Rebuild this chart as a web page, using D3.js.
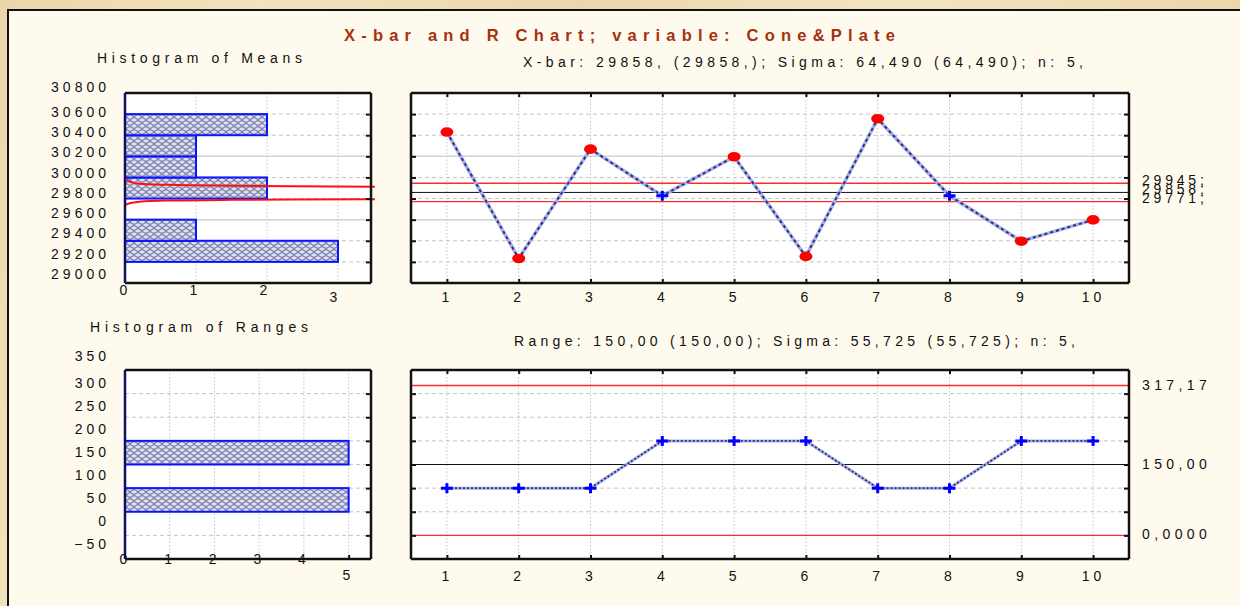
<!DOCTYPE html>
<html><head><meta charset="utf-8">
<script src="https://cdn.jsdelivr.net/npm/d3@7"></script>
<style>
html,body{margin:0;padding:0;background:#eedbb2;}
svg{display:block;font-family:"Liberation Sans",Arial,sans-serif;}
</style>
</head><body>
<svg id="c" width="1240" height="606"></svg>
<script>
// ---------------- data ----------------
const samples = [1,2,3,4,5,6,7,8,9,10];
const xbarValues = [30430, 29232, 30268, 29826, 30196, 29252, 30556, 29826, 29396, 29598];
const rangeValues = [100, 100, 100, 200, 200, 200, 100, 100, 200, 200];
const xbarCenter = 29858, xbarUCL = 29945, xbarLCL = 29771;
const rangeCenter = 150, rangeUCL = 317.17, rangeLCL = 0;
const meanTicks = [29000, 29200, 29400, 29600, 29800, 30000, 30200, 30400, 30600, 30800];
const meanBinEdges = [29000, 29200, 29400, 29600, 29800, 30000, 30200, 30400, 30600, 30800];
const rangeTicks = [-50, 0, 50, 100, 150, 200, 250, 300, 350];
const rangeBinEdges = [-50, 0, 50, 100, 150, 200, 250, 300, 350];
const meanCountTicks = [0, 1, 2, 3];
const rangeCountTicks = [0, 1, 2, 3, 4, 5];
// normal-fit curve traces drawn on the histogram of means: [count, value]
const meanCurveUpper = [[0.02,29980],[0.08,29956],[0.2,29941],[0.6,29930],[1.5,29921],[3.52,29912]];
const meanCurveLower = [[0.0,29740],[0.08,29758],[0.2,29769],[0.6,29781],[1.5,29788],[3.52,29793]];
const xbarRightLabels = ["29945;", "29858;", "29771;"];
const rangeRightLabels = ["317,17", "150,00", "0,0000"];
const titleText = "X-bar and R Chart; variable:  Cone&Plate";
const xbarSubtitle = "X-bar: 29858, (29858,); Sigma: 64,490 (64,490); n: 5,";
const rangeSubtitle = "Range: 150,00 (150,00); Sigma: 55,725 (55,725); n: 5,";

// ---------------- setup ----------------
const svg = d3.select("#c");
const defs = svg.append("defs");
const bgGrad = defs.append("linearGradient").attr("id","parch").attr("x1","0").attr("x2","1").attr("y1","0").attr("y2","0.2");
[["0","#ecd6a9"],["0.2","#f2e2bd"],["0.45","#ebd7ad"],["0.7","#f3e4c1"],["1","#ead5a8"]].forEach(s=>bgGrad.append("stop").attr("offset",s[0]).attr("stop-color",s[1]));
const pat = defs.append("pattern").attr("id","weave").attr("patternUnits","userSpaceOnUse").attr("width",8).attr("height",6);
pat.append("rect").attr("width",8).attr("height",6).attr("fill","#dfe0f2");
pat.append("path").attr("d","M0,1.5 Q2,-0.3 4,1.5 T8,1.5 M0,4.5 Q2,6.3 4,4.5 T8,4.5")
  .attr("fill","none").attr("stroke","#7b7ea8").attr("stroke-width",1.1);

svg.append("rect").attr("width",1240).attr("height",606).attr("fill","url(#parch)");
svg.append("rect").attr("x",8).attr("y",10).attr("width",1245).attr("height",610)
  .attr("fill","#fffaee").attr("stroke","#111").attr("stroke-width",2);

const GRID = "#c4c4c4";
const LS = "4px";
const FS = 14;

// text helpers
function txt(x,y,s,opts={}){
  const t = svg.append("text").attr("x",x).attr("y",y).text(s)
    .attr("font-size",opts.size||FS).attr("fill",opts.fill||"#111");
  if(opts.bold) t.attr("font-weight","bold");
  if(opts.len) t.attr("textLength",opts.len).attr("lengthAdjust","spacing");
  if(opts.ls) t.style("letter-spacing",opts.ls);
  if(opts.anchor) t.attr("text-anchor",opts.anchor);
  return t;
}

txt(344,41,titleText,{size:16.5,bold:true,fill:"#a5320e",len:551});
txt(523,67,xbarSubtitle,{size:14,len:560});
txt(97,63,"Histogram of Means",{size:14,len:205});
txt(90,332,"Histogram of Ranges",{size:14,len:218});
txt(514,346,rangeSubtitle,{size:14,len:561});

// ---------------- geometry ----------------
const P = {
  hm:{x0:125,x1:371,y0:93,y1:283},
  xb:{x0:411,x1:1129,y0:93,y1:283},
  hr:{x0:125,x1:371,y0:370,y1:559},
  rc:{x0:411,x1:1129,y0:370,y1:559}
};
const yMean = d3.scaleLinear().domain([29000,30800]).range([P.xb.y1,P.xb.y0]);
const yRange = d3.scaleLinear().domain([-50,350]).range([P.rc.y1,P.rc.y0]);
const xSample = d3.scaleLinear().domain([0.5,10.5]).range([P.xb.x0,P.xb.x1]);
const xCountM = d3.scaleLinear().domain([0,3.465]).range([P.hm.x0,P.hm.x1]);
const xCountR = d3.scaleLinear().domain([0,5.5]).range([P.hr.x0,P.hr.x1]);
// label placement scales (Statistica's labels are offset from the tick marks)
const yMeanLbl = d3.scaleLinear().domain([29000,30600,30800]).range([274,112,87]);
const yRangeLbl = d3.scaleLinear().domain([-50,300,350]).range([544,383,356]);
const xCountMLbl = d3.scaleLinear().domain([0,3]).range([123,333]);
const xCountRLbl = d3.scaleLinear().domain([0,5]).range([123,346]);

function plotBg(p){
  svg.append("rect").attr("x",p.x0).attr("y",p.y0).attr("width",p.x1-p.x0).attr("height",p.y1-p.y0).attr("fill","#fff");
}
function hGrid(p,ys,dash,color,w){
  svg.append("g").selectAll("line").data(ys).join("line")
    .attr("x1",p.x0).attr("x2",p.x1).attr("y1",d=>d).attr("y2",d=>d)
    .attr("stroke",color||GRID).attr("stroke-width",w||1).attr("stroke-dasharray",dash);
}
function vGrid(p,xs){
  svg.append("g").selectAll("line").data(xs).join("line")
    .attr("y1",p.y0).attr("y2",p.y1).attr("x1",d=>d).attr("x2",d=>d)
    .attr("stroke",GRID).attr("stroke-width",1).attr("stroke-dasharray","1.5,2");
}
function frame(p,leftColor){
  const g = svg.append("g").attr("fill","none").attr("stroke-width",2.5);
  g.append("line").attr("x1",p.x0).attr("x2",p.x1).attr("y1",p.y0).attr("y2",p.y0).attr("stroke","#111");
  g.append("line").attr("x1",p.x0).attr("x2",p.x1).attr("y1",p.y1).attr("y2",p.y1).attr("stroke","#111");
  g.append("line").attr("x1",p.x1).attr("x2",p.x1).attr("y1",p.y0).attr("y2",p.y1).attr("stroke","#111");
  g.append("line").attr("x1",p.x0).attr("x2",p.x0).attr("y1",p.y0).attr("y2",p.y1).attr("stroke",leftColor||"#111");
}
function tickAxis(axis,tx,ty){
  const g = svg.append("g").attr("transform",`translate(${tx},${ty})`).call(axis);
  g.select(".domain").remove();
  g.selectAll(".tick line").attr("stroke","#111").attr("stroke-width",2);
  g.selectAll("text").remove();
  return g;
}
function labelAxis(axis,tx,ty,anchor,dx){
  const g = svg.append("g").attr("transform",`translate(${tx},${ty})`).call(axis);
  g.select(".domain").remove();
  g.selectAll(".tick line").remove();
  g.attr("font-family",null).attr("font-size",FS);
  g.selectAll("text").attr("fill","#111").style("letter-spacing",LS);
  if(anchor) g.selectAll("text").attr("text-anchor",anchor);
  if(dx!==undefined) g.selectAll("text").attr("dx",dx);
  return g;
}
function bins(values,edges){
  const out=[];
  for(let i=0;i<edges.length-1;i++){
    const lo=edges[i],hi=edges[i+1];
    out.push({lo,hi,count:values.filter(v=>v>lo&&v<=hi).length});
  }
  return out.filter(b=>b.count>0);
}

const innerMean = meanTicks.slice(1,-1);
const innerRange = rangeTicks.slice(1,-1);

// ---------------- Histogram of Means ----------------
plotBg(P.hm);
hGrid(P.hm, innerMean.filter(t=>t!==29600&&t!==30200).map(yMean), "4,3");
hGrid(P.hm, [29600,30200].map(yMean), null, "#d2d2d2", 1.5);
vGrid(P.hm, [1,2,3].map(xCountM));
svg.append("g").selectAll("rect").data(bins(xbarValues,meanBinEdges)).join("rect")
  .attr("x",xCountM(0)).attr("y",d=>yMean(d.hi)).attr("width",d=>xCountM(d.count)-xCountM(0))
  .attr("height",d=>yMean(d.lo)-yMean(d.hi)).attr("fill","url(#weave)").attr("stroke","#0a14ff").attr("stroke-width",2);
const curveLine = d3.line().x(d=>xCountM(d[0])).y(d=>yMean(d[1])).curve(d3.curveMonotoneX);
[meanCurveUpper,meanCurveLower].forEach(c=>{
  svg.append("path").attr("d",curveLine(c)).attr("fill","none").attr("stroke","#ff1010").attr("stroke-width",2);
});
frame(P.hm,"#101060");
tickAxis(d3.axisLeft(yMean).tickValues(innerMean).tickSize(5), P.hm.x1, 0);
labelAxis(d3.axisLeft(yMeanLbl).tickValues(meanTicks).tickSize(0).tickPadding(0).tickFormat(d3.format("d")), 110, 0, "end");
const hmx = labelAxis(d3.axisBottom(xCountMLbl).tickValues(meanCountTicks).tickSize(0).tickPadding(0).tickFormat(d3.format("d")), 2, 285);
hmx.selectAll(".tick").filter(d=>d===3).select("text").attr("dy","1.2em");

// ---------------- X-bar chart ----------------
plotBg(P.xb);
hGrid(P.xb, innerMean.filter(t=>t!==29600&&t!==30200).map(yMean), "4,3");
hGrid(P.xb, [29600,30200].map(yMean), null, "#d2d2d2", 1.5);
vGrid(P.xb, samples.map(xSample));
hGrid(P.xb, [yMean(xbarUCL)], null, "#ff2a2a", 1.3);
hGrid(P.xb, [yMean(xbarCenter)], null, "#111", 1);
hGrid(P.xb, [yMean(xbarLCL)], null, "#ff2a2a", 1.3);
const xbLine = d3.line().x((d,i)=>xSample(samples[i])).y(d=>yMean(d));
svg.append("path").attr("d",xbLine(xbarValues)).attr("fill","none").attr("stroke","#aab0e2").attr("stroke-width",3.5);
svg.append("path").attr("d",xbLine(xbarValues)).attr("fill","none").attr("stroke","#27318f").attr("stroke-width",2).attr("stroke-dasharray","3,3");
function markers(values,ys,lcl,ucl){
  const pts = values.map((v,i)=>({x:xSample(samples[i]),y:ys(v),out:v>ucl||v<lcl}));
  const g = svg.append("g");
  g.selectAll("ellipse").data(pts.filter(p=>p.out)).join("ellipse")
    .attr("cx",d=>d.x).attr("cy",d=>d.y).attr("rx",6.5).attr("ry",4.8).attr("fill","#ff0000");
  g.selectAll("path").data(pts.filter(p=>!p.out)).join("path")
    .attr("d",d=>`M${d.x-6},${d.y}H${d.x+6}M${d.x},${d.y-5}V${d.y+5}`)
    .attr("stroke","#0000ff").attr("stroke-width",3).attr("fill","none");
}
markers(xbarValues,yMean,xbarLCL,xbarUCL);
frame(P.xb);
tickAxis(d3.axisRight(yMean).tickValues(innerMean).tickSize(5), P.xb.x0, 0);
tickAxis(d3.axisLeft(yMean).tickValues(innerMean).tickSize(5), P.xb.x1, 0);
tickAxis(d3.axisBottom(xSample).tickValues(samples).tickSize(4), 0, P.xb.y0);
tickAxis(d3.axisTop(xSample).tickValues(samples).tickSize(4), 0, P.xb.y1);
labelAxis(d3.axisBottom(xSample).tickValues(samples).tickSize(0).tickPadding(9), 0, P.xb.y1);
[xbarUCL,xbarCenter,xbarLCL].forEach((v,i)=>{
  txt(1142, yMean(v)+1.5, xbarRightLabels[i], {size:14, ls:"3.8px"});
});

// ---------------- Histogram of Ranges ----------------
plotBg(P.hr);
hGrid(P.hr, innerRange.map(yRange), "4,3");
vGrid(P.hr, [1,2,3,4,5].map(xCountR));
svg.append("g").selectAll("rect").data(bins(rangeValues,rangeBinEdges)).join("rect")
  .attr("x",xCountR(0)).attr("y",d=>yRange(d.hi)).attr("width",d=>xCountR(d.count)-xCountR(0))
  .attr("height",d=>yRange(d.lo)-yRange(d.hi)).attr("fill","url(#weave)").attr("stroke","#0a14ff").attr("stroke-width",2);
frame(P.hr,"#101060");
tickAxis(d3.axisLeft(yRange).tickValues(innerRange).tickSize(5), P.hr.x1, 0);
tickAxis(d3.axisTop(xCountR).tickValues([5]).tickSize(4), 0, P.hr.y1);
labelAxis(d3.axisLeft(yRangeLbl).tickValues(rangeTicks).tickSize(0).tickPadding(0).tickFormat(d3.format("d")), 110, 0, "end");
const hrx = labelAxis(d3.axisBottom(xCountRLbl).tickValues(rangeCountTicks).tickSize(0).tickPadding(0).tickFormat(d3.format("d")), 2, 554);
hrx.selectAll(".tick").filter(d=>d===5).select("text").attr("dy","1.85em");

// ---------------- Range chart ----------------
plotBg(P.rc);
hGrid(P.rc, innerRange.filter(t=>t!==0&&t!==150).map(yRange), "4,3");
vGrid(P.rc, samples.map(xSample));
hGrid(P.rc, [yRange(rangeUCL)], null, "#ff2a2a", 1.3);
hGrid(P.rc, [yRange(rangeCenter)], null, "#111", 1);
hGrid(P.rc, [yRange(rangeLCL)], null, "#ff2a2a", 1.3);
const rLine = d3.line().x((d,i)=>xSample(samples[i])).y(d=>yRange(d));
svg.append("path").attr("d",rLine(rangeValues)).attr("fill","none").attr("stroke","#aab0e2").attr("stroke-width",3);
svg.append("path").attr("d",rLine(rangeValues)).attr("fill","none").attr("stroke","#27318f").attr("stroke-width",1.8).attr("stroke-dasharray","2,2");
markers(rangeValues,yRange,rangeLCL,rangeUCL);
frame(P.rc);
tickAxis(d3.axisRight(yRange).tickValues(innerRange).tickSize(5), P.rc.x0, 0);
tickAxis(d3.axisLeft(yRange).tickValues(innerRange).tickSize(5), P.rc.x1, 0);
tickAxis(d3.axisBottom(xSample).tickValues(samples).tickSize(4), 0, P.rc.y0);
tickAxis(d3.axisTop(xSample).tickValues(samples).tickSize(4), 0, P.rc.y1);
labelAxis(d3.axisBottom(xSample).tickValues(samples).tickSize(0).tickPadding(12), 0, P.rc.y1);
[rangeUCL,rangeCenter,rangeLCL].forEach((v,i)=>{
  txt(1142, yRange(v)+4, rangeRightLabels[i], {size:14, ls:"4.4px"});
});
</script>
</body></html>
